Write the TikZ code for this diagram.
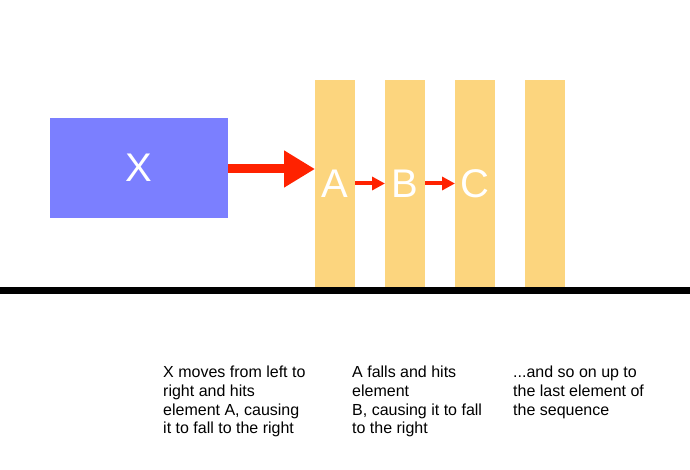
\documentclass[tikz,border=0pt]{standalone}
\usepackage{fontspec}
\setmainfont{Liberation Sans}
\usepackage{xcolor}
\usetikzlibrary{arrows.meta}
\definecolor{boxblue}{HTML}{7B7FFF}
\definecolor{domino}{HTML}{FCD57E}
\definecolor{hitred}{HTML}{FF2200}
\tikzset{
	mover/.style={fill=boxblue,text=white,minimum width=178pt,minimum height=100pt,
			inner sep=0pt,outer sep=0pt,font=\fontsize{40}{48}\selectfont},
	piece/.style={fill=domino,text=white,minimum width=40pt,minimum height=207pt,
			inner sep=0pt,outer sep=0pt,font=\fontsize{40}{48}\selectfont},
	push/.style={hitred,line width=9pt,-{Triangle[length=31pt,width=35pt]}},
	knock/.style={hitred,line width=4pt,-{Triangle[length=13pt,width=13pt]}},
	caption/.style={anchor=north west,align=left,inner sep=0pt,
			font=\fontsize{16}{18.7}\selectfont}
}
\begin{document}
\begin{tikzpicture}[x=1pt,y=-1pt]
		\useasboundingbox (0,0) rectangle (690,470);
		\node[mover] (X) at (139,168) {X};
		\foreach \name/\x/\lbl in {A/335/A,B/405/B,C/475/C,D/545/}
			\node[piece] (\name) at (\x,183.5) {\lbl};
		\draw[line width=7pt] (0,290.5) coordinate (g0) -- (690,290.5) coordinate (g1);
		\draw[push] ([yshift=-1pt]X.east) -- ([yshift=-1pt]X.east -| A.west);
		\draw[knock] (A.east) -- (B.west);
		\draw[knock] (B.east) -- (C.west);
		\node[caption] (t1) at (163,366) {X moves from left to\\right and hits\\element A, causing\\it to fall to the right};
		\node[caption] (t2) at (352,366) {A falls and hits\\element\\B, causing it to fall\\to the right};
		\node[caption] (t3) at (513,366) {...and so on up to\\the last element of\\the sequence};
	\end{tikzpicture}
\end{document}
